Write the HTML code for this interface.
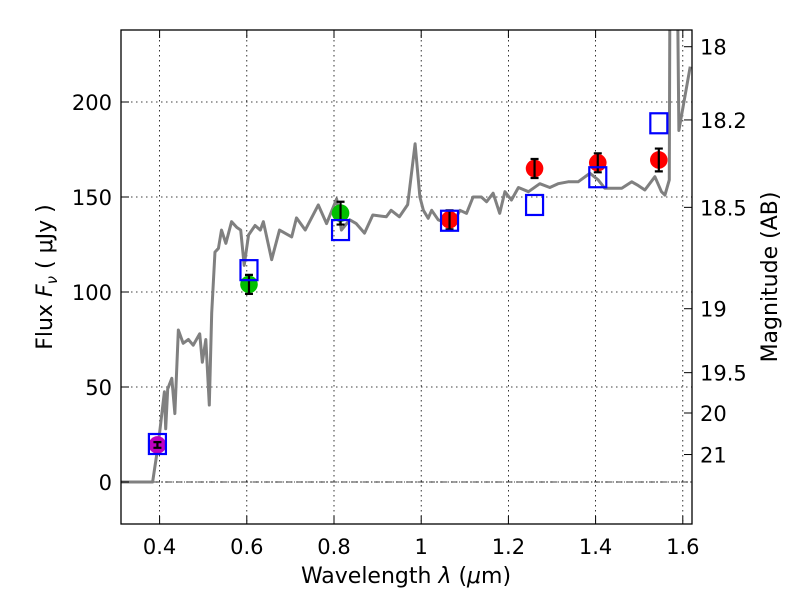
<!DOCTYPE html>
<html><head><meta charset="utf-8"><style>
body{margin:0;background:#fff;}
svg text{font-family:"DejaVu Sans","Liberation Sans",sans-serif;fill:#000;}
</style></head><body>
<svg id="chart" width="800" height="600" xmlns="http://www.w3.org/2000/svg">
<defs><clipPath id="clip"><rect x="121" y="30" width="571" height="494"/></clipPath></defs>
<rect x="0" y="0" width="800" height="600" fill="#fff"/>
<g id="grid"></g>
<g id="marks" clip-path="url(#clip)"></g>
<rect x="121" y="30" width="571" height="494" fill="none" stroke="#000" stroke-width="1.3"/>
<g id="axes"></g>
<text x="406" y="583" font-size="22" text-anchor="middle">Wavelength  <tspan font-style="italic">λ</tspan> (<tspan font-style="italic">μ</tspan>m)</text>
<text transform="translate(52,277) rotate(-90)" font-size="22" text-anchor="middle">Flux  <tspan font-style="italic">F</tspan><tspan font-style="italic" font-size="15" dy="5">ν</tspan><tspan dy="-5">  ( μJy )</tspan></text>
<text transform="translate(777,277) rotate(-90)" font-size="22" text-anchor="middle">Magnitude (AB)</text>
</svg>
<script>
const xTicks=[0.4,0.6,0.8,1.0,1.2,1.4,1.6];
const xTickLabels=["0.4","0.6","0.8","1","1.2","1.4","1.6"];
const yTicks=[0,50,100,150,200];
const magTicks=[18,18.2,18.5,19,19.5,20,21];
const magLabels=["18","18.2","18.5","19","19.5","20","21"];
const specWave=[0.31,0.384,0.397,0.407,0.411,0.414,0.4186,0.428,0.435,0.443,0.454,0.466,0.477,0.492,0.498,0.506,0.514,0.5195,0.527,0.535,0.542,0.552,0.565,0.577,0.586,0.594,0.604,0.619,0.631,0.638,0.657,0.675,0.703,0.714,0.734,0.764,0.783,0.806,0.817,0.836,0.851,0.87,0.889,0.92,0.931,0.95,0.969,0.986,0.997,1.005,1.016,1.024,1.039,1.062,1.077,1.089,1.104,1.119,1.138,1.15,1.165,1.18,1.192,1.207,1.223,1.246,1.272,1.295,1.314,1.337,1.36,1.387,1.406,1.421,1.444,1.46,1.483,1.498,1.513,1.536,1.551,1.559,1.569,1.571,1.586,1.591,1.617];
const specFlux=[0,0,20,39.6,47.5,28,49,54.6,36,80,73,75,72,78,63,75,40.5,89,121,123,132.6,125.6,137,134,132.6,114,130,135,132.6,137,117,132.6,129,139,132.6,145.8,136,149,132.6,138,136,131,140.5,139.6,143,139.6,146,178,150,143,138.8,143,138,136,138,143,141.4,150,150,147.5,152,141.4,152.8,148.4,155,152.8,157,155,157,158,158,162.5,159,154.6,154.6,154.6,158,156,153.7,160.7,152.8,151,159,300,300,185,218.6];
const photWave=[0.395,0.605,0.815,1.065,1.26,1.405,1.545];
const photFlux=[19.5,104,141.5,138,165,168,169.5];
const photErr=[1.5,5,6,5,5,5,6];
const photColor=["#bf00bf","#00bf00","#00bf00","#ff0000","#ff0000","#ff0000","#ff0000"];
const modelFlux=[20,111.5,132.6,137.5,145.8,160.4,188.8];

const X=v=>159.6+(v-0.4)*436;
const Y=v=>482-v*1.9;
const NS="http://www.w3.org/2000/svg";
function mk(tag,attrs,parent){const e=document.createElementNS(NS,tag);for(const k in attrs)e.setAttribute(k,attrs[k]);parent.appendChild(e);return e;}
const grid=document.getElementById('grid'),marks=document.getElementById('marks'),axes=document.getElementById('axes');
xTicks.forEach((t,i)=>{
  const g=mk('line',{x1:X(t),x2:X(t),y1:30,y2:524,stroke:'#000','stroke-width':0.8,'stroke-dasharray':'1.5,3.5'},grid);
  
  
  mk('line',{x1:X(t),x2:X(t),y1:524,y2:516,stroke:'#000'},axes);
  mk('line',{x1:X(t),x2:X(t),y1:30,y2:38,stroke:'#000'},axes);
  const tx=mk('text',{x:X(t),y:554,'font-size':21,'text-anchor':'middle'},axes);
  tx.textContent=xTickLabels[i];
  
  
});
yTicks.forEach(t=>{
  const g=mk('line',{x1:121,x2:692,y1:Y(t),y2:Y(t),stroke:'#000','stroke-width':0.8,'stroke-dasharray':'1.5,3.5'},grid);
  
  
  mk('line',{x1:121,x2:129,y1:Y(t),y2:Y(t),stroke:'#000'},axes);
  const tx=mk('text',{x:112,y:Y(t)+8,'font-size':21,'text-anchor':'end'},axes);
  tx.textContent=String(t);
  
  
});
magTicks.forEach((m,i)=>{
  const f=3631e6*Math.pow(10,-0.4*m);
  mk('line',{x1:684,x2:692,y1:Y(f),y2:Y(f),stroke:'#000'},axes);
  const tx=mk('text',{x:700,y:Y(f)+8,'font-size':21},axes);
  tx.textContent=magLabels[i];
  
  
});
const zl=mk('line',{x1:121,x2:692,y1:Y(0),y2:Y(0),stroke:'#000','stroke-width':0.8,'stroke-dasharray':'6,2,1,2'},marks);


const sp=mk('polyline',{points:specWave.map((w,i)=>X(w)+','+Y(specFlux[i])).join(' '),fill:'none',stroke:'#808080','stroke-width':3,'stroke-linejoin':'round'},marks);


photWave.forEach((w,i)=>{
  const c=mk('circle',{cx:X(w),cy:Y(photFlux[i]),r:8.8,fill:photColor[i]},marks);
  
  
  const x=X(w),y1=Y(photFlux[i]+photErr[i]),y2=Y(photFlux[i]-photErr[i]);
  const e=mk('path',{d:`M${x},${y1}V${y2}M${x-4},${y1}H${x+4}M${x-4},${y2}H${x+4}`,stroke:'#000','stroke-width':2.2,fill:'none'},marks);
  
  
});
photWave.forEach((w,i)=>{
  const r=mk('rect',{x:X(w)-8.5,y:Y(modelFlux[i])-10,width:17,height:20,fill:'none',stroke:'#0000ff','stroke-width':2.2},marks);
  
  
});
</script>
</body></html>
